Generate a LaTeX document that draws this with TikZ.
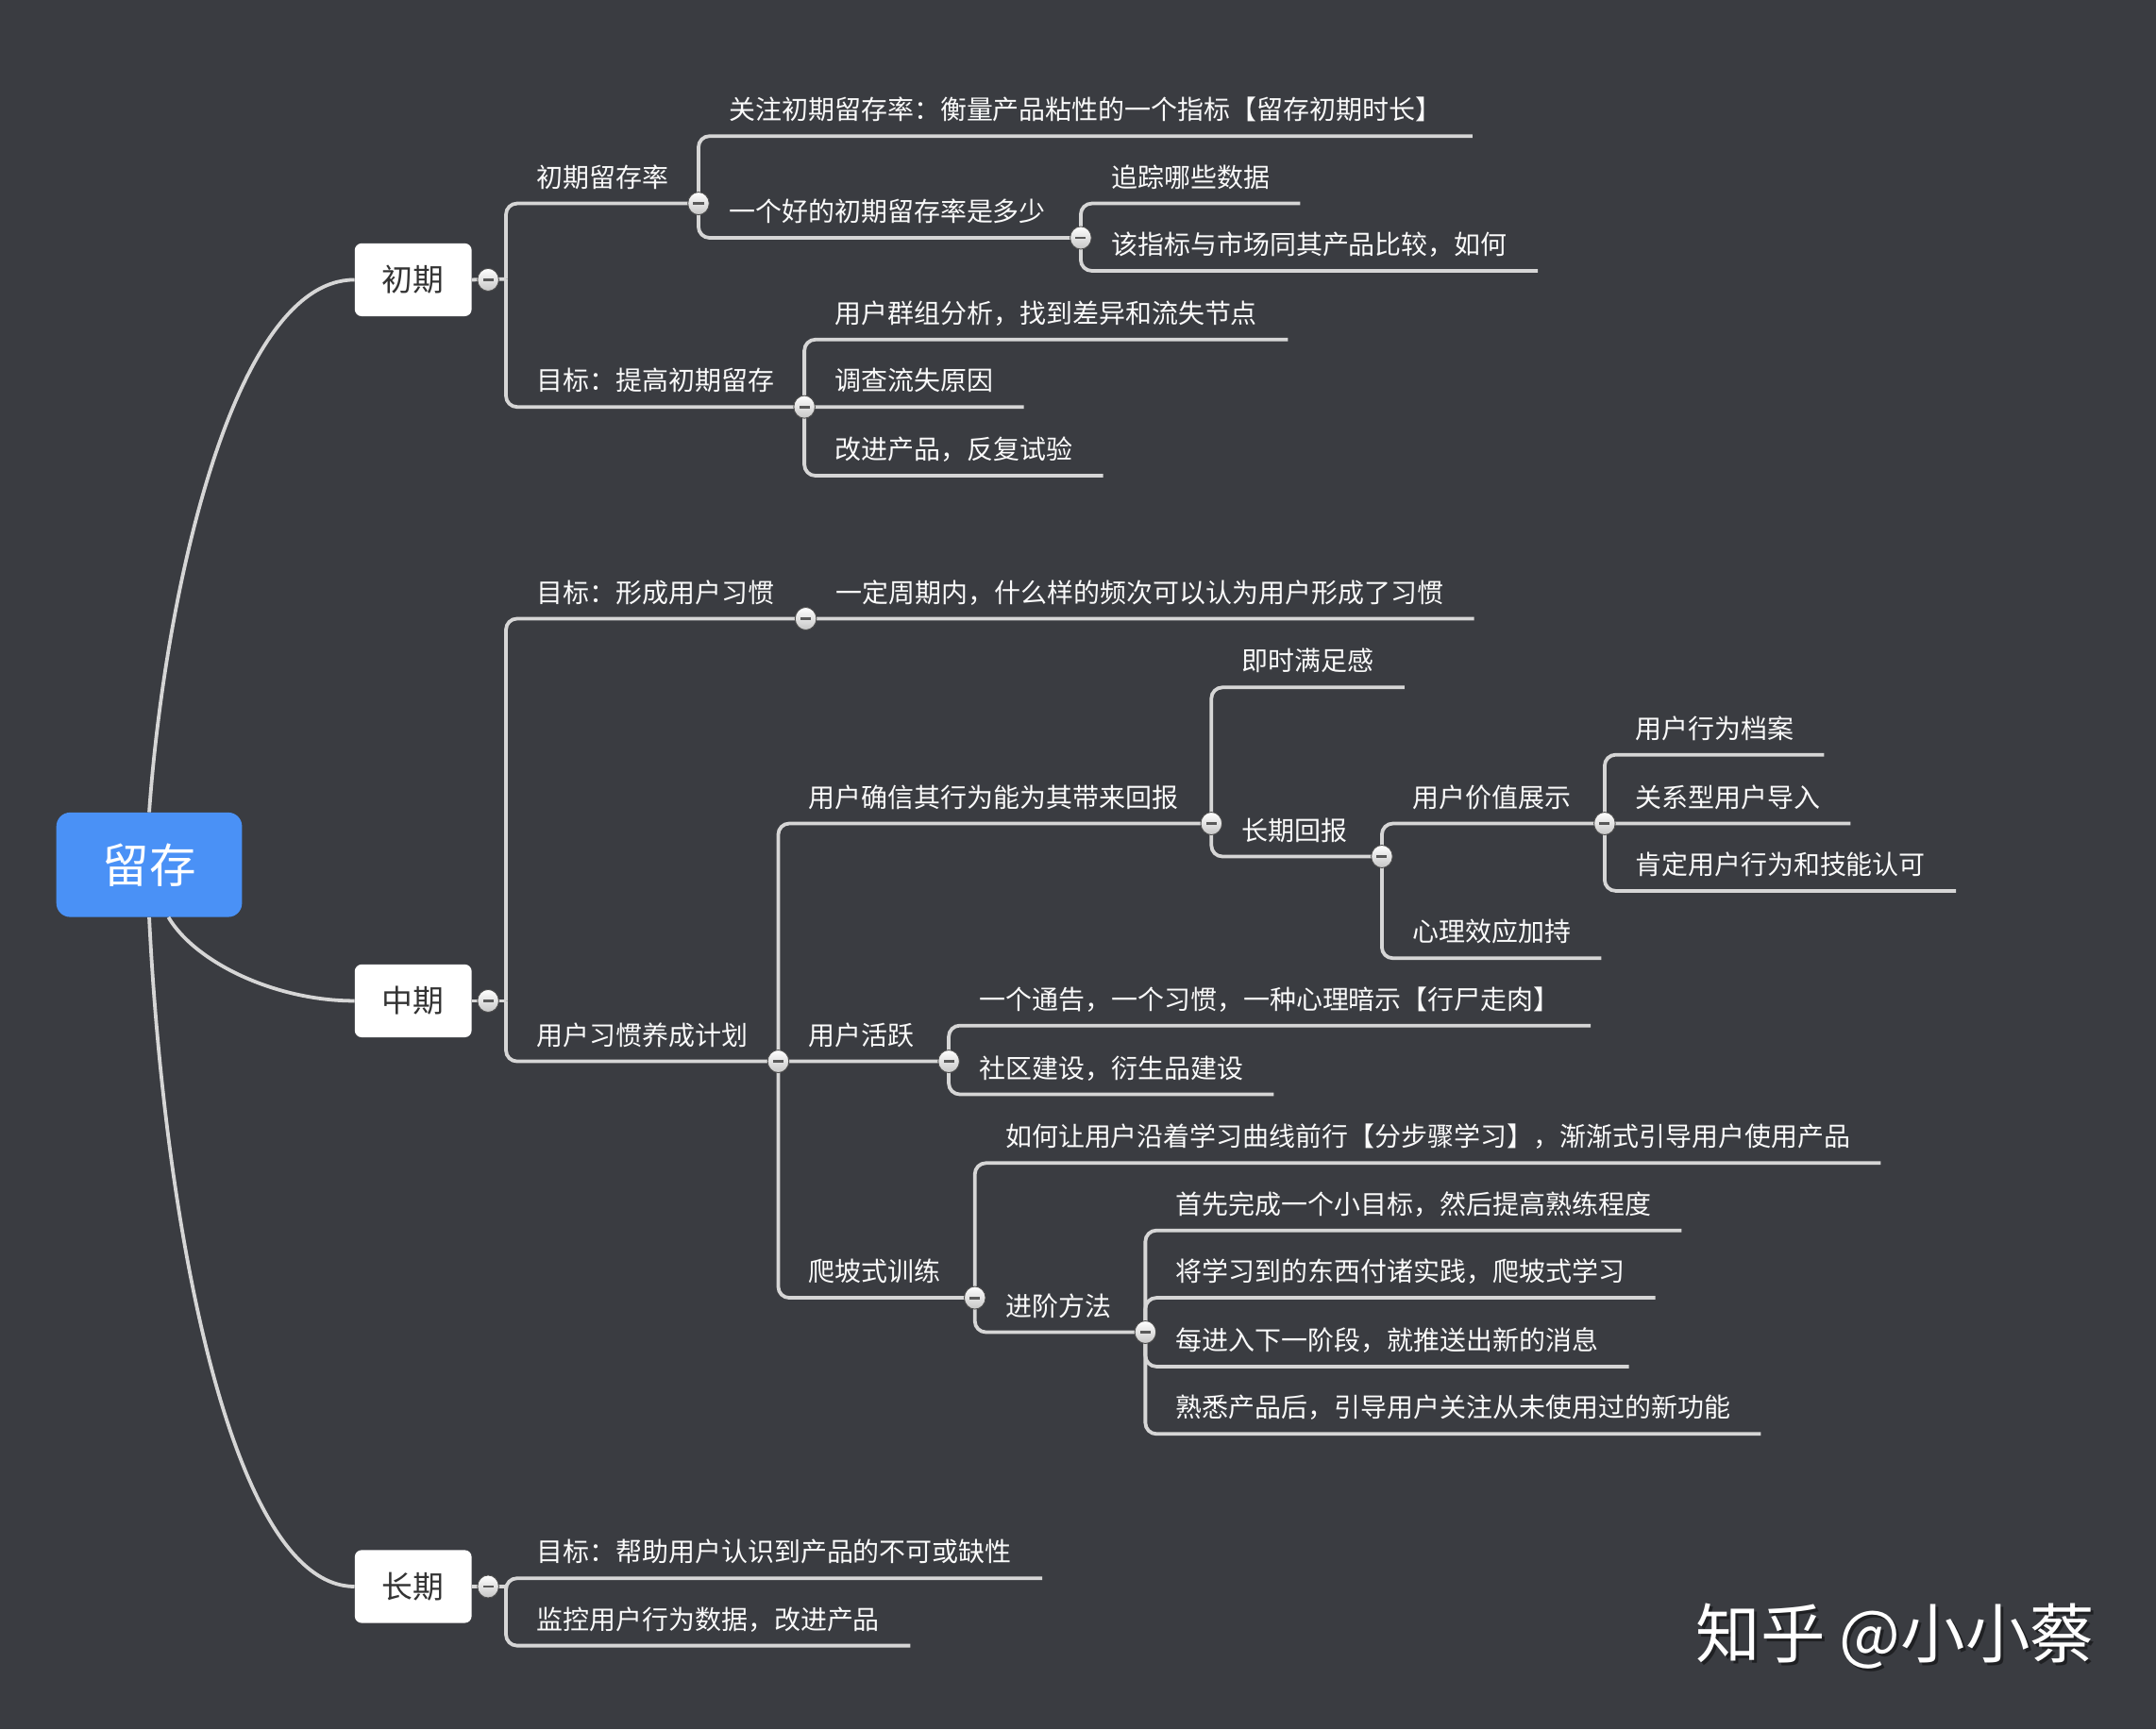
\documentclass[tikz,border=0pt]{standalone}
\usepackage{fontspec}
\setmainfont{Noto Sans CJK SC}
\usetikzlibrary{calc,shapes.geometric}
\definecolor{bg}{RGB}{58,60,65}
\definecolor{ln}{RGB}{214,214,214}
\definecolor{txt}{RGB}{250,250,250}
\definecolor{rootblue}{RGB}{74,145,246}
\definecolor{boxtxt}{RGB}{51,51,51}
\tikzset{
  branch/.style={draw=ln, line width=2.6pt, rounded corners=8pt},
  topic/.style={font=\fontsize{19.2pt}{19.2pt}\selectfont, text=txt, inner sep=0pt, anchor=base west},
  lvlbox/.style={fill=white, rounded corners=5pt, minimum width=85pt, minimum height=53pt, inner sep=0pt, text=boxtxt, font=\fontsize{22.5pt}{22.5pt}\selectfont},
  rootbox/.style={fill=rootblue, rounded corners=10pt, minimum width=135pt, minimum height=76pt, inner sep=0pt, text=white, font=\fontsize{34pt}{34pt}\selectfont},
  knob/.style={ellipse, minimum width=15.5pt, minimum height=16.5pt, inner sep=0pt, draw=gray!60!black, line width=0.6pt, top color=white, bottom color=gray!45,
    path picture={\fill[black!65] ([xshift=-3.8pt,yshift=-1pt]path picture bounding box.center) rectangle ([xshift=3.8pt,yshift=1pt]path picture bounding box.center);}},
  wmark/.style={font=\fontsize{47pt}{47pt}\selectfont, inner sep=0pt}
}
\newcommand\mmleaf[4]{\node[topic] (#1) at ($(#2 |- 0,#3)+(22,-12)$) {#4};
  \draw[branch] (#2) |- ([xshift=22pt,yshift=-12pt]#1.base east);}
\newcommand\mmsub[5]{\node[topic] (#1) at ($(#2 |- 0,#3)+(22,-12)$) {#4};
  \draw[branch] (#2) |- (#5);}
\begin{document}
\begin{tikzpicture}[x=1pt,y=-1pt]
\fill[bg] (0,0) rectangle (1568,1258);
\useasboundingbox (0,0) rectangle (1568,1258);
% junctions
\coordinate (v1) at (368,203);
\coordinate (v2) at (368,728);
\coordinate (v3) at (368,1154);
\coordinate (ja1) at (508,148);
\coordinate (ja2) at (786,173);
\coordinate (ja3) at (585,296);
\coordinate (jb1) at (586,450);
\coordinate (jb2) at (566,772);
\coordinate (jb3) at (881,599);
\coordinate (jb4) at (1005,623);
\coordinate (jb5) at (1167,599);
\coordinate (jb6) at (690,772);
\coordinate (jb7) at (709,944);
\coordinate (jb8) at (833,969);
% root and main boxes
\node[rootbox] (root) at (108.5,629) {留存};
\node[lvlbox] (b1) at (300.5,203.5) {初期};
\node[lvlbox] (b2) at (300.5,728) {中期};
\node[lvlbox] (b3) at (300.5,1154) {长期};
\draw[ln, line width=2.6pt] (root.north) .. controls (120,430) and (170,203.5) .. (b1.west);
\draw[ln, line width=2.6pt] ([xshift=14pt]root.south) .. controls (142,700) and (200,728) .. (b2.west);
\draw[ln, line width=2.6pt] (root.south) .. controls (120,900) and (170,1154) .. (b3.west);
\draw[ln, line width=2.6pt] (b1.east) -- (v1);
\draw[ln, line width=2.6pt] (b2.east) -- (v2);
\draw[ln, line width=2.6pt] (b3.east) -- (v3);
% 初期
\mmsub{a1}{v1}{148}{初期留存率}{ja1}
\mmsub{a3}{v1}{296}{目标：提高初期留存}{ja3}
\mmleaf{a11}{ja1}{99}{关注初期留存率：衡量产品粘性的一个指标【留存初期时长】}
\mmsub{a12}{ja1}{173}{一个好的初期留存率是多少}{ja2}
\mmleaf{a121}{ja2}{148}{追踪哪些数据}
\mmleaf{a122}{ja2}{197}{该指标与市场同其产品比较，如何}
\mmleaf{a31}{ja3}{247}{用户群组分析，找到差异和流失节点}
\mmleaf{a32}{ja3}{296}{调查流失原因}
\mmleaf{a33}{ja3}{346}{改进产品，反复试验}
% 中期
\mmsub{b1t}{v2}{450}{目标：形成用户习惯}{jb1}
\mmsub{b2t}{v2}{772}{用户习惯养成计划}{jb2}
\mmleaf{b11}{jb1}{450}{一定周期内，什么样的频次可以认为用户形成了习惯}
\mmsub{b21}{jb2}{599}{用户确信其行为能为其带来回报}{jb3}
\mmsub{b22}{jb2}{772}{用户活跃}{jb6}
\mmsub{b23}{jb2}{944}{爬坡式训练}{jb7}
\mmleaf{b211}{jb3}{500}{即时满足感}
\mmsub{b212}{jb3}{623}{长期回报}{jb4}
\mmsub{b2121}{jb4}{599}{用户价值展示}{jb5}
\mmleaf{b2122}{jb4}{697}{心理效应加持}
\mmleaf{b21211}{jb5}{549}{用户行为档案}
\mmleaf{b21212}{jb5}{599}{关系型用户导入}
\mmleaf{b21213}{jb5}{648}{肯定用户行为和技能认可}
\mmleaf{b221}{jb6}{746}{一个通告，一个习惯，一种心理暗示【行尸走肉】}
\mmleaf{b222}{jb6}{796}{社区建设，衍生品建设}
\mmleaf{b231}{jb7}{846}{如何让用户沿着学习曲线前行【分步骤学习】，渐渐式引导用户使用产品}
\mmsub{b232}{jb7}{969}{进阶方法}{jb8}
\mmleaf{b2321}{jb8}{895}{首先完成一个小目标，然后提高熟练程度}
\mmleaf{b2322}{jb8}{944}{将学习到的东西付诸实践，爬坡式学习}
\mmleaf{b2323}{jb8}{994}{每进入下一阶段，就推送出新的消息}
\mmleaf{b2324}{jb8}{1043}{熟悉产品后，引导用户关注从未使用过的新功能}
% 长期
\mmleaf{c1}{v3}{1148}{目标：帮助用户认识到产品的不可或缺性}
\mmleaf{c2}{v3}{1197}{监控用户行为数据，改进产品}
% knobs
\node[knob] (k1) at (355,203.5) {};
\node[knob] (k2) at (355,728) {};
\node[knob] (k3) at (355,1154) {};
\foreach \j in {ja1,ja2,ja3,jb1,jb2,jb3,jb4,jb5,jb6,jb7,jb8}
  \node[knob] (k-\j) at (\j) {};
% watermark
\node[wmark, text=black, opacity=0.45] (wmshadow) at (1380.5,1192.5) {知乎 @小小蔡};
\node[wmark, text=white] (wm) at (1378.5,1190) {知乎 @小小蔡};
\end{tikzpicture}
\end{document}
